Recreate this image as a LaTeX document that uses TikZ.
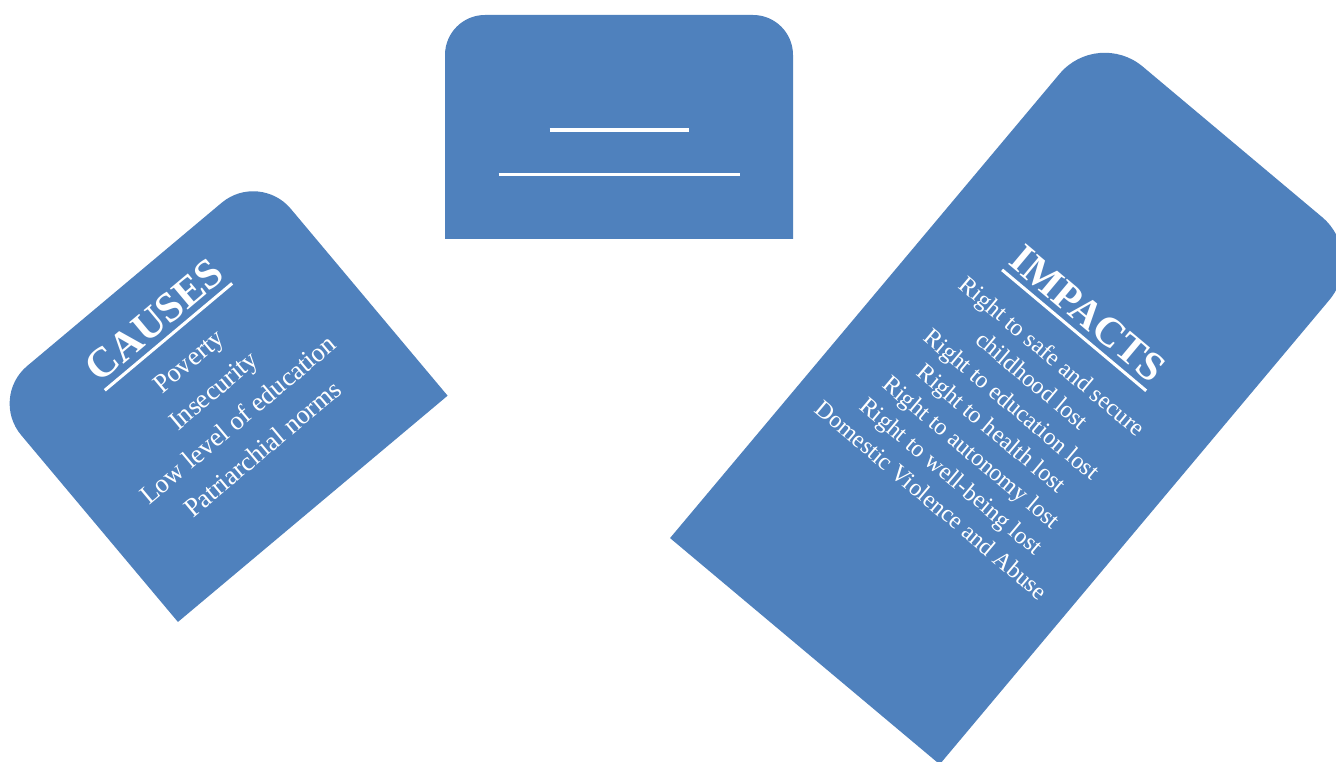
\documentclass[tikz,border=0pt]{standalone}
\usepackage{fontspec}
\setmainfont{Liberation Serif}
\usetikzlibrary{positioning}
\definecolor{tabblue}{HTML}{4F81BD}
% tab with the two upper corners rounded: width, height, radius
\newcommand{\tabpath}[3]{(-#1/2,-#2/2) -- (-#1/2,#2/2-#3) arc[start angle=180,end angle=90,radius=#3] -- (#1/2-#3,#2/2) arc[start angle=90,end angle=0,radius=#3] -- (#1/2,-#2/2) -- cycle}

\begin{document}
\begin{tikzpicture}[
  x=0.75pt, y=0.75pt,
  headline/.style={font=\bfseries, text=white, inner sep=0pt, anchor=base, text depth=5.8pt},
  item/.style={text=white, inner sep=0pt, anchor=base},
  uline/.style={draw=white, line width=2.3pt},
  blank/.style={draw=white, line width=2.3pt},
]
\useasboundingbox (0,0) rectangle (1336,-762);
\fill[white] (0,0) rectangle (1336,-762);
\clip (0,0) rectangle (1336,-762);

% empty tab at the top
\begin{scope}[shift={(619,-127)}]
  \fill[tabblue] \tabpath{348}{224}{40};
  \coordinate (b1w) at (-69.5,-3);
  \coordinate (b1e) at (69.5,-3);
  \coordinate (b2w) at (-120.5,-47.3);
  \coordinate (b2e) at (120.5,-47.3);
  \draw[blank] (b1w) -- (b1e);
  \draw[blank] (b2w) -- (b2e);
\end{scope}

% causes
\begin{scope}[shift={(218.6,-396.6)}, rotate=40, transform shape]
  \fill[tabblue] \tabpath{352}{293}{49};
  \node[headline, font=\fontsize{31.5}{36}\selectfont\bfseries] (causes) at (0,86) {CAUSES};
  \draw[uline] (causes.south west) -- (causes.south east);
  \foreach \txt [count=\i] in {Poverty, Insecurity, Low level of education, Patriarchial norms}
    \node[item, font=\fontsize{20}{24}\selectfont] (cause\i) at (0,{38-38.4*(\i-1)}) {\txt};
\end{scope}

% impacts
\begin{scope}[shift={(1018.6,-396.5)}, rotate=-40, transform shape]
  \fill[tabblue] \tabpath{352}{665}{59};
  \node[headline, font=\fontsize{31}{36}\selectfont\bfseries] (impacts) at (0,94.4) {IMPACTS};
  \draw[uline] (impacts.south west) -- (impacts.south east);
  \foreach \txt [count=\i] in {Right to safe and secure, childhood lost, Right to education lost, Right to health lost, Right to autonomy lost, Right to well-being lost, Domestic Violence and Abuse}
    \node[item, font=\fontsize{18.2}{22}\selectfont] (impact\i) at (0,{44.4-31.3*(\i-1)}) {\txt};
\end{scope}
\end{tikzpicture}
\end{document}
